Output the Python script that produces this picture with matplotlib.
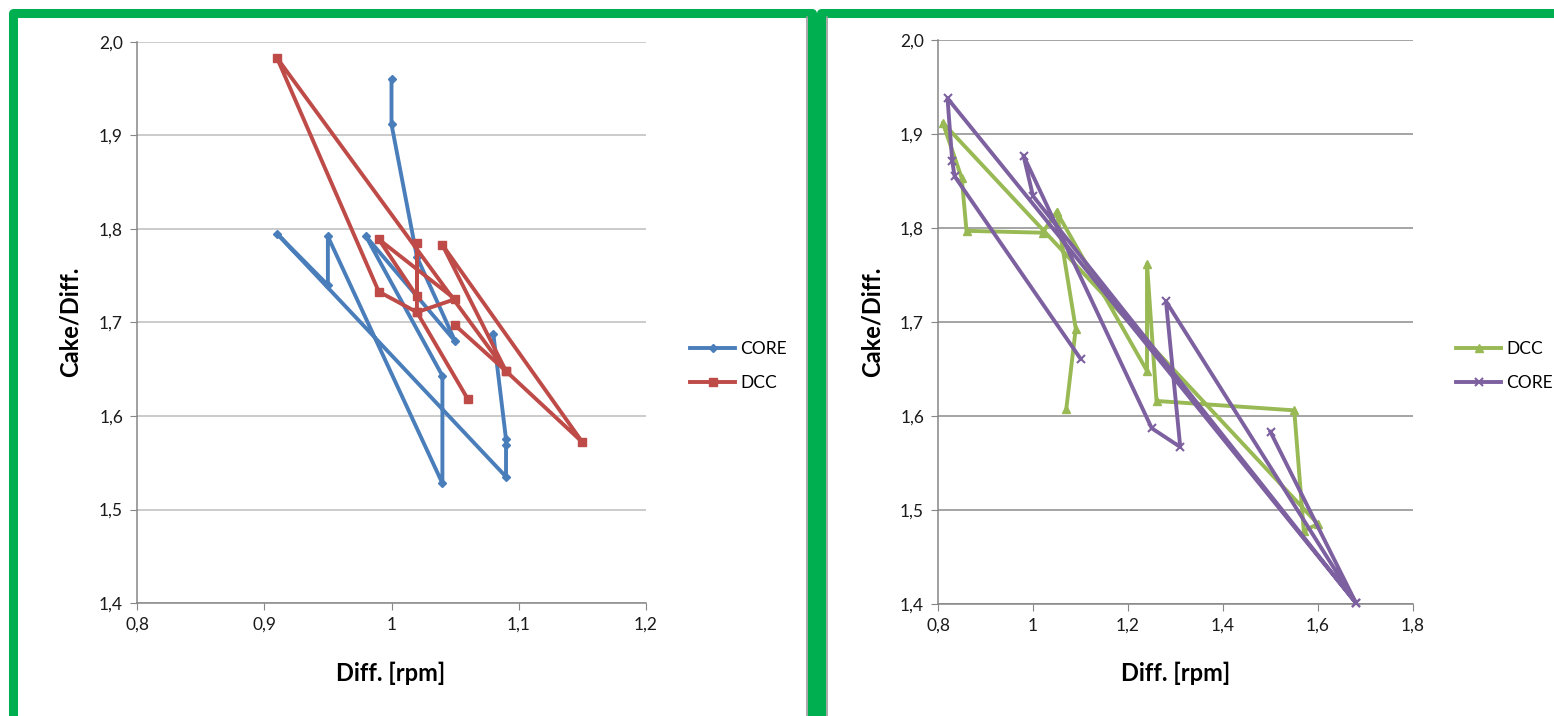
import matplotlib.pyplot as plt
from matplotlib.patches import Rectangle
from matplotlib.lines import Line2D
from matplotlib.ticker import FuncFormatter, MultipleLocator

plt.rcParams['font.family'] = ['Lato', 'DejaVu Sans']

# left chart data
left_core_x = [1.08, 1.09, 1.09, 1.09, 0.91, 0.95, 0.95, 1.04, 1.04, 0.98, 1.05, 1.02, 1.00, 1.00]
left_core_y = [1.688, 1.575, 1.569, 1.535, 1.795, 1.740, 1.792, 1.528, 1.643, 1.792, 1.680, 1.770, 1.912, 1.960]
left_dcc_x = [1.05, 1.09, 1.15, 1.04, 1.09, 0.91, 0.99, 1.02, 1.05, 0.99, 1.02, 1.02, 1.02, 1.06]
left_dcc_y = [1.697, 1.648, 1.572, 1.783, 1.648, 1.983, 1.733, 1.711, 1.725, 1.789, 1.728, 1.785, 1.711, 1.618]

# right chart data
right_dcc_x = [1.07, 1.09, 1.05, 1.24, 1.24, 1.26, 1.55, 1.57, 1.60, 0.81, 0.85, 0.86, 1.02, 1.05]
right_dcc_y = [1.607, 1.693, 1.817, 1.648, 1.762, 1.616, 1.606, 1.478, 1.485, 1.912, 1.853, 1.797, 1.795, 1.817]
right_core_x = [1.10, 0.835, 0.83, 0.82, 1.68, 1.28, 1.31, 1.25, 0.98, 1.00, 1.68, 1.50]
right_core_y = [1.661, 1.855, 1.871, 1.938, 1.401, 1.722, 1.567, 1.587, 1.877, 1.834, 1.401, 1.583]

W, H = 1554, 716
fig = plt.figure(figsize=(W / 100, H / 100), dpi=100)


def box(x0, y0, x1, y1):
    return [x0 / W, 1 - y1 / H, (x1 - x0) / W, (y1 - y0) / H]


def fx(v, pos):
    return f"{round(v, 2):g}".replace('.', ',')


def fy(v, pos):
    return f"{v:.1f}".replace('.', ',')


# green panel frames
green = '#00B050'
for x0, x1 in [(13, 812), (821, 1580)]:
    fig.add_artist(Rectangle((x0 / W, -0.1), (x1 - x0) / W, 1.1 - 13 / H,
                             transform=fig.transFigure, facecolor='white',
                             edgecolor=green, lw=6.5, joinstyle='round', zorder=0))
fig.add_artist(Line2D([806.5 / W] * 2, [0, 1 - 17 / H], transform=fig.transFigure,
                      color='#9a9a9a', lw=1.2, zorder=1))
fig.add_artist(Line2D([826.5 / W] * 2, [0, 1 - 17 / H], transform=fig.transFigure,
                      color='#9a9a9a', lw=1.2, zorder=1))

ax1 = fig.add_axes(box(137, 42, 646, 603))
ax2 = fig.add_axes(box(938, 40, 1413, 604))

for ax, xlim, xstep, gridc in [(ax1, (0.8, 1.2), 0.1, '#bdbdbd'), (ax2, (0.8, 1.8), 0.2, '#8c8c8c')]:
    ax.set_xlim(*xlim)
    ax.set_ylim(1.4, 2.0)
    ax.xaxis.set_major_locator(MultipleLocator(xstep))
    ax.yaxis.set_major_locator(MultipleLocator(0.1))
    ax.xaxis.set_major_formatter(FuncFormatter(fx))
    ax.yaxis.set_major_formatter(FuncFormatter(fy))
    ax.yaxis.grid(True, color=gridc, lw=1.1)
    ax.set_axisbelow(True)
    for s in ['top', 'right']:
        ax.spines[s].set_visible(False)
    for s in ['left', 'bottom']:
        ax.spines[s].set_color('#868686')
        ax.spines[s].set_linewidth(1.1)
    ax.tick_params(direction='out', length=5, color='#868686', labelsize=12.5,
                   labelcolor='#1a1a1a', pad=5)

lw = 2.8
ax1.plot(left_core_x, left_core_y, color='#4A7EBB', lw=lw, marker='D', ms=4,
         label='CORE', clip_on=False, zorder=3)
ax1.plot(left_dcc_x, left_dcc_y, color='#BE4B48', lw=lw, marker='s', ms=6,
         label='DCC', clip_on=False, zorder=3)
ax2.plot(right_dcc_x, right_dcc_y, color='#98B954', lw=lw, marker='^', ms=6,
         label='DCC', clip_on=False, zorder=3)
ax2.plot(right_core_x, right_core_y, color='#7D60A0', lw=lw, marker='x', ms=6, mew=1.5,
         label='CORE', clip_on=False, zorder=3)

for ax, lx in [(ax1, 690), (ax2, 1456)]:
    ax.legend(loc='center left', bbox_to_anchor=(lx / W, 1 - 366 / H),
              bbox_transform=fig.transFigure, frameon=False, fontsize=12.5,
              handlelength=2.6, handletextpad=0.3, labelspacing=1.0,
              borderaxespad=0, borderpad=0)

for cx in [391, 1176]:
    fig.text(cx / W, 1 - 673 / H, 'Diff. [rpm]', ha='center', va='center',
             fontsize=17, fontweight='bold')
for cx in [70, 872]:
    fig.text(cx / W, 1 - 322 / H, 'Cake/Diff.', ha='center', va='center',
             rotation=90, fontsize=17, fontweight='bold')

fig.savefig('out.png', dpi=100)
